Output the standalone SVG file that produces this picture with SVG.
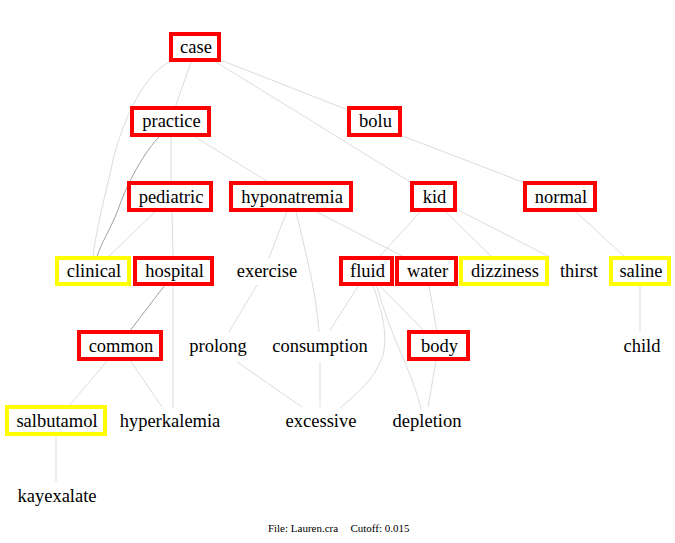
<svg xmlns="http://www.w3.org/2000/svg" width="675" height="543" viewBox="0 0 675 543">
<style>
.r{fill:#fff;stroke:#ff0000;stroke-width:4}
.y{fill:#fff;stroke:#ffff00;stroke-width:4}
text{font-family:"Liberation Serif","Times New Roman",serif;font-size:18.5px;fill:#000;text-anchor:middle}
.e path{fill:none;stroke:#dcdcdc;stroke-width:1}
.e path.d{stroke:#a0a0a0}
.f{font-size:11px}
</style>
<rect width="675" height="543" fill="#fff"/>
<g class="e" id="edges">
<path d="M191,62 L175,108"/>
<path d="M171,61 C140,75 118,135 112,165 C104,200 96,230 93,257"/>
<path class="d" d="M161,135 C145,150 126,185 118,210 C110,230 100,245 97,257"/>
<path d="M218,59 L348,110"/>
<path d="M216,62 L412,183"/>
<path d="M171,135 L171,183"/>
<path d="M192,135 L270,183"/>
<path d="M400,135 L525,183"/>
<path d="M157,210 L108,257"/>
<path d="M172,212 L173,256"/>
<path class="d" d="M165,285 L129,332"/>
<path d="M173,286 L173,408"/>
<path d="M108,360 L68,407"/>
<path d="M130,360 L162,407"/>
<path d="M287,211 L269,258"/>
<path d="M296,212 C305,250 316,290 319,332"/>
<path d="M315,211 L404,257"/>
<path d="M257,285 L229,332"/>
<path d="M237,362 L302,407"/>
<path d="M320,362 L320,407"/>
<path d="M359,285 L330,330"/>
<path d="M373,286 C382,310 388,335 383,355 C375,380 355,395 340,408"/>
<path d="M377,286 C383,310 395,340 404,360 C412,380 418,395 421,409"/>
<path d="M380,286 L426,333"/>
<path d="M429,286 L437,332"/>
<path d="M436,361 L428,407"/>
<path d="M421,211 L379,257"/>
<path d="M445,211 L492,257"/>
<path d="M456,209 L550,257"/>
<path d="M575,211 L625,257"/>
<path d="M640,286 L640,332"/>
<path d="M56,436 L56,482"/>
</g>
<g id="case"><rect class="r" x="171" y="34" width="48" height="26"/><text x="196" y="53">case</text></g>
<g id="practice"><rect class="r" x="132" y="108" width="77" height="27"/><text x="171.5" y="127">practice</text></g>
<g id="bolu"><rect class="r" x="349" y="108" width="51" height="27"/><text x="375.5" y="127">bolu</text></g>
<g id="pediatric"><rect class="r" x="129" y="183" width="82" height="27"/><text x="171" y="203">pediatric</text></g>
<g id="hyponatremia"><rect class="r" x="231" y="183" width="120" height="27"/><text x="292" y="203">hyponatremia</text></g>
<g id="kid"><rect class="r" x="412" y="183" width="43" height="27"/><text x="434.5" y="203">kid</text></g>
<g id="normal"><rect class="r" x="525" y="183" width="70" height="27"/><text x="561" y="203">normal</text></g>
<g id="clinical"><rect class="y" x="57" y="258" width="72" height="26"/><text x="94" y="277">clinical</text></g>
<g id="hospital"><rect class="r" x="135" y="258" width="77" height="26"/><text x="174.5" y="277">hospital</text></g>
<g id="exercise"><text x="267" y="277">exercise</text></g>
<g id="fluid"><rect class="r" x="341" y="258" width="51" height="26"/><text x="367.5" y="277">fluid</text></g>
<g id="water"><rect class="r" x="397" y="258" width="59" height="26"/><text x="427.5" y="277">water</text></g>
<g id="dizziness"><rect class="y" x="461" y="258" width="86" height="26"/><text x="505" y="277">dizziness</text></g>
<g id="thirst"><text x="579" y="277">thirst</text></g>
<g id="saline"><rect class="y" x="611" y="258" width="58" height="26"/><text x="641" y="277">saline</text></g>
<g id="common"><rect class="r" x="79" y="332" width="82" height="27"/><text x="121" y="352">common</text></g>
<g id="prolong"><text x="218" y="352">prolong</text></g>
<g id="consumption"><text x="320" y="352">consumption</text></g>
<g id="body"><rect class="r" x="409" y="332" width="59" height="27"/><text x="439.5" y="352">body</text></g>
<g id="child"><text x="642" y="352">child</text></g>
<g id="salbutamol"><rect class="y" x="7" y="407" width="98" height="27"/><text x="57" y="427">salbutamol</text></g>
<g id="hyperkalemia"><text x="170" y="427">hyperkalemia</text></g>
<g id="excessive"><text x="321" y="427">excessive</text></g>
<g id="depletion"><text x="427" y="427">depletion</text></g>
<g id="kayexalate"><text x="57" y="502">kayexalate</text></g>
<text class="f" x="303" y="532">File: Lauren.cra</text>
<text class="f" x="380" y="532">Cutoff: 0.015</text>
</svg>
